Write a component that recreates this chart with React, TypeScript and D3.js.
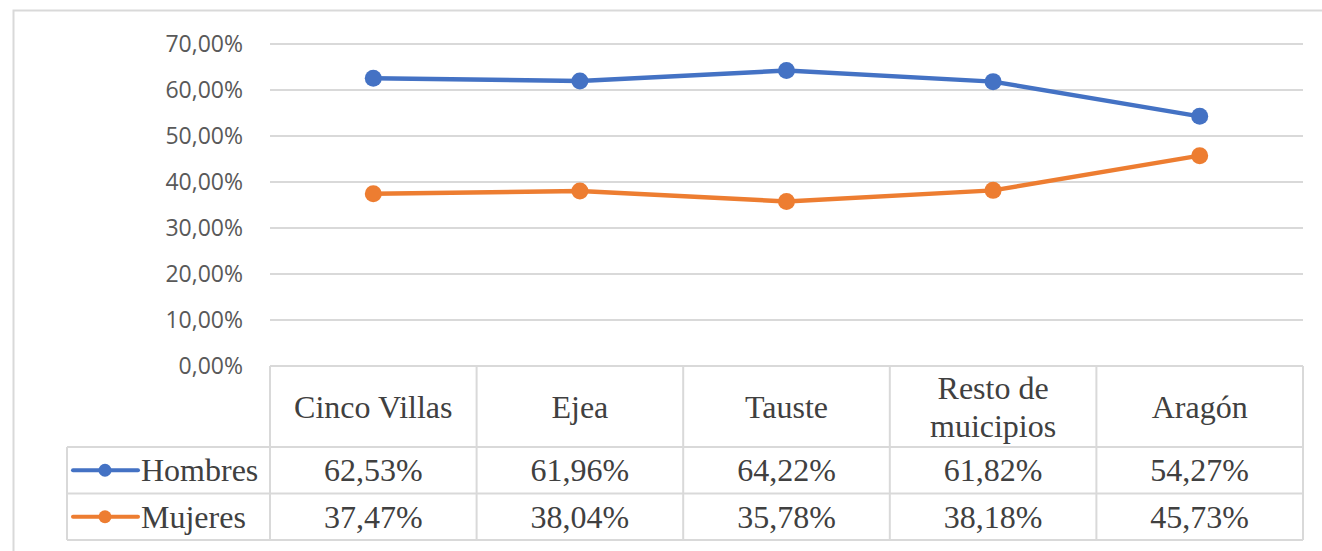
import { useEffect, useRef } from "react";
import * as d3 from "d3";

const categories = ["Cinco Villas", "Ejea", "Tauste", "Resto de\nmuicipios", "Aragón"];
const hombres = [62.53, 61.96, 64.22, 61.82, 54.27];
const mujeres = [37.47, 38.04, 35.78, 38.18, 45.73];
const yTicks = [0, 10, 20, 30, 40, 50, 60, 70];

const series = [
  { name: "Hombres", values: hombres, color: "#4472C4" },
  { name: "Mujeres", values: mujeres, color: "#ED7D31" },
];

const fmt = (v: number) => v.toFixed(2).replace(".", ",") + "%";

export default function App() {
  const svgRef = useRef<SVGSVGElement | null>(null);

  useEffect(() => {
    const svg = d3.select(svgRef.current);
    svg.selectAll("*").remove();

    const width = 1322;
    const height = 551;
    const plotLeft = 270;
    const plotRight = 1303;
    const plotTop = 44;
    const plotBottom = 366;
    const headerBottom = 447;
    const rowH = 46.5;
    const legendLeft = 67;
    const grid = "#d9d9d9";

    svg.attr("width", width).attr("height", height);

    // outer frame (cut off at right and bottom)
    svg.append("path")
      .attr("d", `M13.5,${height} V10.5 H${width}`)
      .attr("fill", "none")
      .attr("stroke", grid)
      .attr("stroke-width", 2);

    const x = d3.scaleBand<string>()
      .domain(categories)
      .range([plotLeft, plotRight]);

    const y = d3.scaleLinear().domain([0, 70]).range([plotBottom, plotTop]);

    // gridlines
    svg.append("g")
      .selectAll("line")
      .data(yTicks.filter((t) => t > 0))
      .join("line")
      .attr("x1", plotLeft)
      .attr("x2", plotRight)
      .attr("y1", (d) => y(d))
      .attr("y2", (d) => y(d))
      .attr("stroke", grid)
      .attr("stroke-width", 2);

    // tick labels
    svg.append("g")
      .selectAll("text")
      .data(yTicks)
      .join("text")
      .attr("x", 243)
      .attr("y", (d) => y(d))
      .attr("dy", "0.35em")
      .attr("text-anchor", "end")
      .attr("font-family", "'Open Sans', 'Noto Sans', sans-serif")
      .attr("font-size", 23)
      .attr("fill", "#595959")
      .text((d) => d.toFixed(2).replace(".", ",") + "%");

    // data table
    const tbl = svg.append("g")
      .attr("fill", "none")
      .attr("stroke", grid)
      .attr("stroke-width", 2);
    const tableBottom = headerBottom + rowH * series.length;
    tbl.append("line").attr("x1", plotLeft).attr("x2", plotRight).attr("y1", plotBottom).attr("y2", plotBottom);
    const colEdges = [plotLeft, ...categories.map((c) => (x(c) ?? 0) + x.bandwidth())];
    colEdges.forEach((cx) => {
      tbl.append("line").attr("x1", cx).attr("x2", cx).attr("y1", plotBottom).attr("y2", tableBottom);
    });
    tbl.append("line").attr("x1", legendLeft).attr("x2", legendLeft).attr("y1", headerBottom).attr("y2", tableBottom);
    [0, 1, 2].forEach((i) => {
      const yy = headerBottom + rowH * i;
      tbl.append("line").attr("x1", legendLeft).attr("x2", plotRight).attr("y1", yy).attr("y2", yy);
    });

    const serif = "'Liberation Serif', 'Times New Roman', serif";
    const textColor = "#404040";
    const fs = 32;

    // header labels
    svg.append("g")
      .selectAll("text")
      .data(categories)
      .join("text")
      .attr("x", (d) => (x(d) ?? 0) + x.bandwidth() / 2)
      .attr("y", (headerBottom + plotBottom) / 2)
      .attr("text-anchor", "middle")
      .attr("font-family", serif)
      .attr("font-size", fs)
      .attr("fill", textColor)
      .each(function (d) {
        const lines = d.split("\n");
        const t = d3.select(this);
        lines.forEach((ln, i) => {
          t.append("tspan")
            .attr("x", (x(d) ?? 0) + x.bandwidth() / 2)
            .attr("dy", i === 0 ? `${0.35 - (lines.length - 1) * 0.6}em` : "1.2em")
            .text(ln);
        });
      });

    // rows
    series.forEach((s, i) => {
      const cy = headerBottom + rowH * i + rowH / 2;
      const row = svg.append("g");
      row.append("line")
        .attr("x1", 73).attr("x2", 138).attr("y1", cy).attr("y2", cy)
        .attr("stroke", s.color).attr("stroke-width", 4).attr("stroke-linecap", "round");
      row.append("circle").attr("cx", 105).attr("cy", cy).attr("r", 6.5).attr("fill", s.color);
      row.append("text")
        .attr("x", 141).attr("y", cy).attr("dy", "0.35em")
        .attr("font-family", serif).attr("font-size", fs).attr("fill", textColor)
        .text(s.name);
      row.selectAll("text.val")
        .data(s.values)
        .join("text")
        .attr("class", "val")
        .attr("x", (_, j) => (x(categories[j]) ?? 0) + x.bandwidth() / 2)
        .attr("y", cy)
        .attr("dy", "0.35em")
        .attr("text-anchor", "middle")
        .attr("font-family", serif).attr("font-size", fs).attr("fill", textColor)
        .text((d) => fmt(d));
    });

    // lines + markers
    const line = d3.line<number>()
      .x((_, j) => (x(categories[j]) ?? 0) + x.bandwidth() / 2)
      .y((d) => y(d));

    series.forEach((s) => {
      svg.append("path")
        .datum(s.values)
        .attr("d", line)
        .attr("fill", "none")
        .attr("stroke", s.color)
        .attr("stroke-width", 4.5)
        .attr("stroke-linejoin", "round")
        .attr("stroke-linecap", "round");
      svg.append("g")
        .selectAll("circle")
        .data(s.values)
        .join("circle")
        .attr("cx", (_, j) => (x(categories[j]) ?? 0) + x.bandwidth() / 2)
        .attr("cy", (d) => y(d))
        .attr("r", 8.5)
        .attr("fill", s.color);
    });
  }, []);

  return (
    <svg
      ref={svgRef}
      style={{ position: "absolute", left: 0, top: 0, display: "block", background: "#fff" }}
    />
  );
}
